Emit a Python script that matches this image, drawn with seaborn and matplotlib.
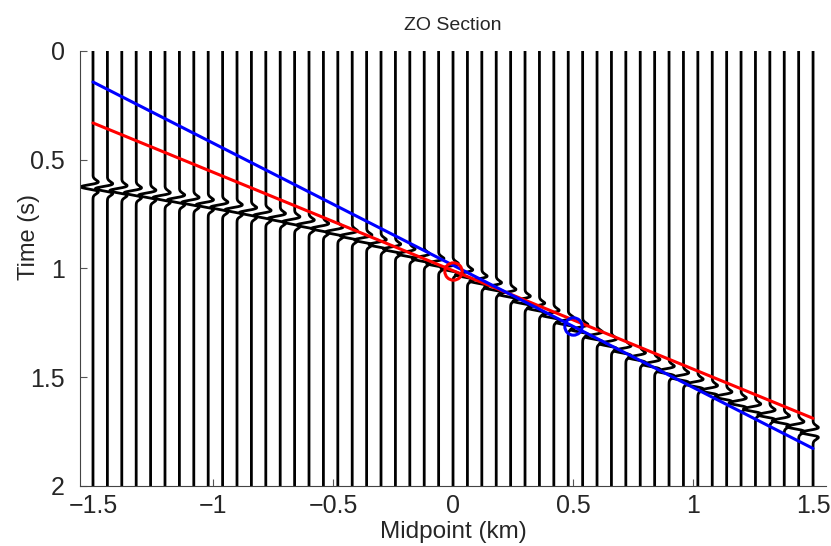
import numpy as np
import pandas as pd
import matplotlib
matplotlib.use("Agg")
import matplotlib.pyplot as plt
import seaborn as sns

# Trace midpoints (km) and the reflection time picked on each trace (s)
midpoints = np.round(np.linspace(-1.5, 1.5, 51), 2)
event_times = [
    0.625, 0.633, 0.642, 0.652, 0.663, 0.674, 0.685, 0.696, 0.707, 0.718,
    0.730, 0.743, 0.756, 0.770, 0.785, 0.800, 0.816, 0.832, 0.850, 0.869,
    0.890, 0.911, 0.933, 0.955, 0.977, 1.000, 1.029, 1.058, 1.088, 1.119,
    1.150, 1.182, 1.215, 1.248, 1.281, 1.314, 1.346, 1.378, 1.410, 1.441,
    1.472, 1.502, 1.532, 1.561, 1.590, 1.618, 1.646, 1.673, 1.700, 1.727,
    1.754,
]

# Local tangents of the event (midpoint, time, slope in s/km)
red_point = (0.0, 1.01)
red_slope = 0.4527
blue_point = (0.5, 1.266)
blue_slope = 0.5617
line_x = [-1.5, 1.5]

xticks = [-1.5, -1.0, -0.5, 0.0, 0.5, 1.0, 1.5]
xticklabels = ["\u22121.5", "\u22121", "\u22120.5", "0", "0.5", "1", "1.5"]
yticks = [0.0, 0.5, 1.0, 1.5, 2.0]
yticklabels = ["0", "0.5", "1", "1.5", "2"]

sns.set_theme(style="white")
plt.rcParams["font.family"] = ["Liberation Sans", "DejaVu Sans"]


def ricker(tau, f=17.0):
    a = (np.pi * f * tau) ** 2
    return (1.0 - 2.0 * a) * np.exp(-a)


# Wiggle traces: each trace deflected by a (negative) Ricker wavelet
t = np.linspace(0.0, 2.0, 2001)
amp = 0.05
frames = []
for i, (x0, t0) in enumerate(zip(midpoints, event_times)):
    frames.append(pd.DataFrame({
        "trace": i,
        "x": x0 - amp * ricker(t - t0),
        "t": t,
    }))
traces = pd.concat(frames, ignore_index=True)

fig = plt.figure(figsize=(8.31, 5.46), dpi=100)
ax = fig.add_axes([0.0963, 0.11, 0.8977, 0.7966])

sns.lineplot(data=traces, x="x", y="t", units="trace", estimator=None,
             sort=False, color="black", linewidth=2.0, ax=ax, legend=False)

red_y = [red_point[1] + red_slope * (x - red_point[0]) for x in line_x]
blue_y = [blue_point[1] + blue_slope * (x - blue_point[0]) for x in line_x]
sns.lineplot(x=line_x, y=red_y, color="#ff0000", linewidth=2.2, ax=ax)
sns.lineplot(x=line_x, y=blue_y, color="#0000ff", linewidth=2.2, ax=ax)

ax.plot([red_point[0]], [red_point[1]], marker="o", markersize=12.5,
        markerfacecolor="none", markeredgecolor="#ff0000", markeredgewidth=2.2)
ax.plot([blue_point[0]], [blue_point[1]], marker="o", markersize=12.5,
        markerfacecolor="none", markeredgecolor="#0000ff", markeredgewidth=2.2)

ax.set_xlim(-1.554, 1.554)
ax.set_ylim(2.0, 0.0)
ax.set_xticks(xticks)
ax.set_xticklabels(xticklabels)
ax.set_yticks(yticks)
ax.set_yticklabels(yticklabels)
ax.tick_params(direction="in", length=5, width=0.8, color="#555555",
               labelsize=18, bottom=True, left=True)
ax.tick_params(axis="x", pad=6)
ax.tick_params(axis="y", pad=11)

for side in ("top", "right"):
    ax.spines[side].set_visible(False)
for side in ("left", "bottom"):
    ax.spines[side].set_color("#444444")
    ax.spines[side].set_linewidth(0.8)

ax.set_title("ZO Section", fontsize=14, pad=15)
ax.set_xlabel("Midpoint (km)", fontsize=17.5, labelpad=2)
ax.set_ylabel("Time (s)", fontsize=17)
ax.yaxis.set_label_coords(-0.053, 0.572)

fig.savefig("out.png", dpi=100)
